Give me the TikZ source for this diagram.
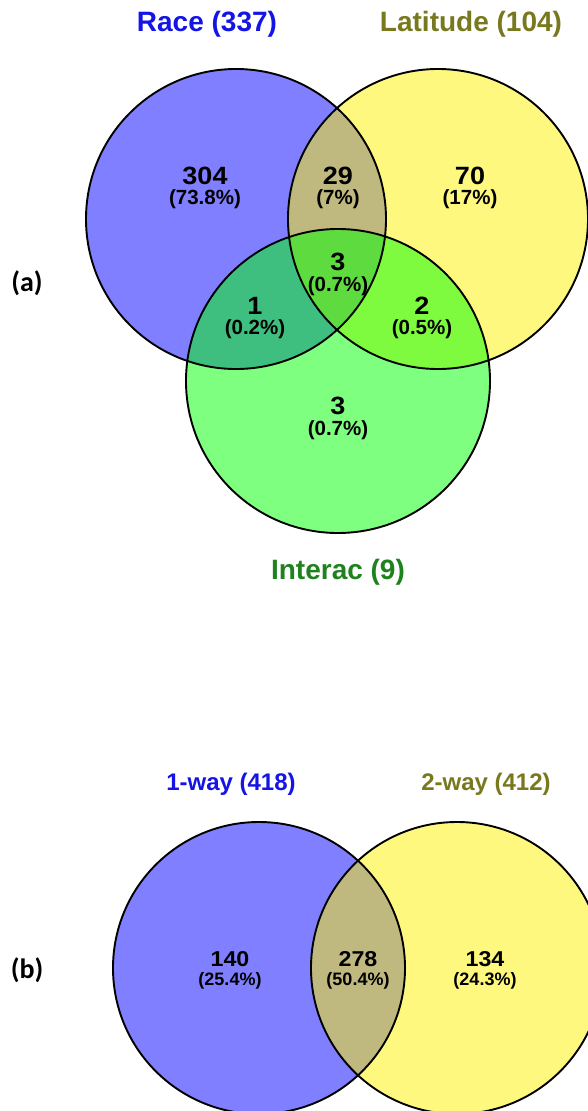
\documentclass[tikz,border=0pt]{standalone}
\usepackage{fontspec}
\setmainfont{Liberation Sans}
\newfontfamily\labfont{Carlito}
\definecolor{racecol}{RGB}{20,20,230}
\definecolor{latcol}{RGB}{120,120,30}
\definecolor{intcol}{RGB}{30,130,30}
\newcommand{\wider}[1]{\scalebox{1.08}[1]{#1}}
\begin{document}
\begin{tikzpicture}[x=1pt,y=-1pt,
  setfill/.style={fill opacity=0.5},
  outline/.style={draw=black,line width=1.9pt},
  numA/.style={font=\fontsize{25}{25}\selectfont\bfseries,inner sep=0pt},
  pctA/.style={font=\fontsize{20.5}{20.5}\selectfont\bfseries,inner sep=0pt},
  numB/.style={font=\fontsize{21.5}{21.5}\selectfont\bfseries,inner sep=0pt},
  pctB/.style={font=\fontsize{18}{18}\selectfont\bfseries,inner sep=0pt},
  title/.style={font=\fontsize{28}{28}\selectfont\bfseries,inner sep=0pt},
  titleB/.style={font=\fontsize{24}{24}\selectfont\bfseries,inner sep=0pt},
  panel/.style={font=\fontsize{28}{28}\selectfont\labfont\bfseries,inner sep=0pt}]
\useasboundingbox (0,0) rectangle (588,1111);
\clip (0,0) rectangle (588,1111);
% ---------- panel (a) ----------
\fill[blue,setfill] (236,219) circle[radius=150pt];
\fill[yellow,setfill] (438,219) circle[radius=150pt];
\fill[green,setfill] (338,381) circle[radius=152pt];
\draw[outline] (236,219) circle[radius=150pt];
\draw[outline] (438,219) circle[radius=150pt];
\draw[outline] (338,381) circle[radius=152pt];
\node[title,text=racecol] (trace) at (207,24) {Race (337)};
\node[title,text=latcol] (tlat) at (471,24) {Latitude (104)};
\node[title,text=intcol] (tint) at (338,572) {Interac (9)};
\node[panel] (pa) at (27,283) {(a)};
\node[numA] (n304) at (205,176) {\wider{304}};
\node[pctA] (p304) at (205,199) {(73.8\%)};
\node[numA] (n29) at (338,176) {\wider{29}};
\node[pctA] (p29) at (338,199) {(7\%)};
\node[numA] (n70) at (470,176) {\wider{70}};
\node[pctA] (p70) at (470,199) {(17\%)};
\node[numA] (n3c) at (338,262) {\wider{3}};
\node[pctA] (p3c) at (338,286) {(0.7\%)};
\node[numA] (n1) at (255,306) {\wider{1}};
\node[pctA] (p1) at (255,329) {(0.2\%)};
\node[numA] (n2) at (422,306) {\wider{2}};
\node[pctA] (p2) at (422,329) {(0.5\%)};
\node[numA] (n3b) at (338,406) {\wider{3}};
\node[pctA] (p3b) at (338,430) {(0.7\%)};
% ---------- panel (b) ----------
\fill[blue,setfill] (259,968) circle[radius=146pt];
\fill[yellow,setfill] (457,968) circle[radius=146pt];
\draw[outline] (259,968) circle[radius=146pt];
\draw[outline] (457,968) circle[radius=146pt];
\node[titleB,text=racecol] (tone) at (231,784) {1-way (418)};
\node[titleB,text=latcol] (ttwo) at (486,784) {2-way (412)};
\node[panel] (pb) at (27,970) {(b)};
\node[numB] (n140) at (230,959) {\wider{140}};
\node[pctB] (p140) at (230,981) {(25.4\%)};
\node[numB] (n278) at (358,959) {\wider{278}};
\node[pctB] (p278) at (358,981) {(50.4\%)};
\node[numB] (n134) at (485,959) {\wider{134}};
\node[pctB] (p134) at (485,981) {(24.3\%)};
\end{tikzpicture}
\end{document}
